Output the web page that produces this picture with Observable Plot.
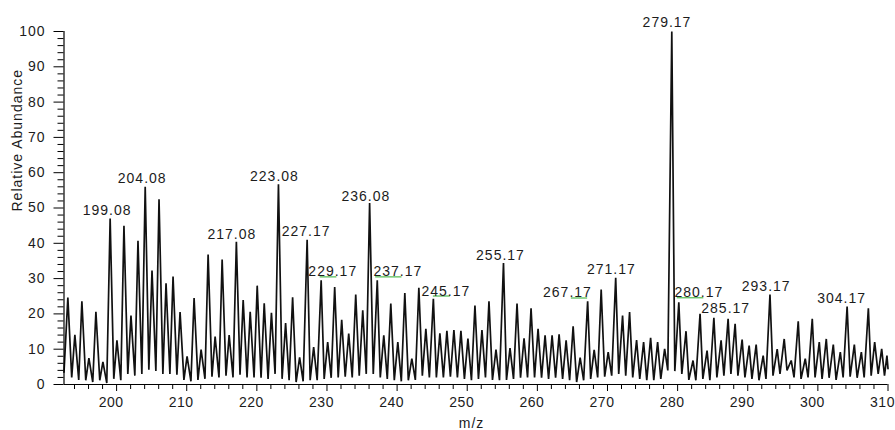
<!DOCTYPE html>
<html>
<head>
<meta charset="utf-8">
<script src="https://cdn.jsdelivr.net/npm/d3@7"></script>
<script src="https://cdn.jsdelivr.net/npm/@observablehq/plot@0.6"></script>
<style>
  html, body { margin: 0; padding: 0; background: #fff; }
  #chart svg text { letter-spacing: 1px; }
  #chart svg g[aria-label="x-axis tick label"] text { letter-spacing: 0.5px; }
</style>
</head>
<body>
<div id="chart"></div>
<script>
// Profile-mode mass spectrum: peak apexes (m/z, relative abundance %)
const peakMz = [
  193.05, 194.05, 195.05, 196.05, 197.05, 198.05, 199.08, 200.05, 201.05, 202.05,
  203.05, 204.08, 205.05, 206.05, 207.05, 208.05, 209.05, 210.05, 211.05, 212.05,
  213.05, 214.05, 215.05, 216.05, 217.08, 218.05, 219.05, 220.05, 221.05, 222.08,
  223.08, 224.1, 225.1, 226.1, 227.17, 228.1, 229.17, 230.1, 231.1, 232.1,
  233.1, 234.1, 235.1, 236.08, 237.17, 238.1, 239.1, 240.1, 241.1, 242.1,
  243.1, 244.1, 245.17, 246.1, 247.1, 248.1, 249.1, 250.1, 251.1, 252.1,
  253.1, 254.1, 255.17, 256.1, 257.1, 258.1, 259.1, 260.1, 261.1, 262.1,
  263.1, 264.1, 265.1, 266.1, 267.17, 268.1, 269.1, 270.1, 271.17, 272.15,
  273.15, 274.15, 275.15, 276.15, 277.15, 278.15, 279.17, 280.17, 281.2, 282.2,
  283.2, 284.2, 285.17, 286.2, 287.2, 288.2, 289.2, 290.2, 291.2, 292.2,
  293.17, 294.2, 295.2, 296.2, 297.2, 298.2, 299.2, 300.2, 301.2, 302.2,
  303.2, 304.17, 305.2, 306.2, 307.2, 308.1, 309.1, 309.85
];
const peakAbundance = [
  24.6, 14.1, 23.6, 7.5, 20.6, 6.4, 47, 12.5, 45, 19.5,
  40.7, 56, 32.3, 52.5, 28.7, 30.6, 20.5, 8, 24.5, 9.9,
  36.8, 13.6, 35.4, 14, 40.4, 23.9, 20.6, 28, 23, 20.3,
  56.7, 17.4, 24.7, 7.7, 41, 10.6, 29.5, 12, 27.6, 18.3,
  14.4, 25.5, 21, 51.4, 29.5, 13.9, 22.9, 12, 25.9, 7.3,
  27.4, 15.8, 24.3, 14.5, 15.2, 15.4, 15.2, 13, 22.4, 15.4,
  23.6, 9.9, 34.4, 10.3, 22.9, 13.1, 21.6, 15.8, 13.9, 13.9,
  14.2, 12.5, 16.5, 7.6, 23.6, 9.8, 26.9, 9.2, 30.2, 19.5,
  20.5, 12.6, 12, 13.2, 12, 10.1, 100, 23.3, 15.1, 6.8,
  20, 9.6, 18.9, 12.5, 18.6, 17.2, 12.7, 11, 11.3, 8.2,
  25.5, 10, 12.9, 6.8, 17.9, 7.3, 18.6, 12, 12.9, 11.3,
  9.2, 22.1, 11.3, 9.2, 21.6, 12, 10.1, 8.2
];

// Minima of the profile between neighbouring peaks, plus both ends of the scan
const valleyMz = [
  192.5,
  193.6, 194.6, 195.6, 196.6, 197.6, 198.6, 199.6, 200.6, 201.6, 202.6,
  203.6, 204.6, 205.6, 206.6, 207.6, 208.6, 209.6, 210.6, 211.6, 212.6,
  213.6, 214.6, 215.6, 216.6, 217.6, 218.6, 219.6, 220.6, 221.6, 222.6,
  223.6, 224.6, 225.6, 226.6, 227.6, 228.6, 229.6, 230.6, 231.6, 232.6,
  233.6, 234.6, 235.6, 236.6, 237.6, 238.6, 239.6, 240.6, 241.6, 242.6,
  243.6, 244.6, 245.6, 246.6, 247.6, 248.6, 249.6, 250.6, 251.6, 252.6,
  253.6, 254.6, 255.6, 256.6, 257.6, 258.6, 259.6, 260.6, 261.6, 262.6,
  263.6, 264.6, 265.6, 266.6, 267.6, 268.6, 269.6, 270.6, 271.6, 272.6,
  273.6, 274.6, 275.6, 276.6, 277.6, 278.6, 279.6, 280.6, 281.6, 282.6,
  283.6, 284.6, 285.6, 286.6, 287.6, 288.6, 289.6, 290.6, 291.6, 292.6,
  293.6, 294.6, 295.6, 296.6, 297.6, 298.6, 299.6, 300.6, 301.6, 302.6,
  303.6, 304.6, 305.6, 306.6, 307.6, 308.6,
  309.5, 310
];
const valleyAbundance = [
  3.5,
  2.0, 1.3, 1.2, 0.7, 1.2, 0.4, 1.6, 1.2, 3.0, 2.5,
  3.0, 4.2, 3.8, 3.0, 3.0, 2.8, 1.3, 0.9, 1.3, 1.6,
  2.2, 2.0, 2.5, 2.0, 2.8, 2.0, 2.0, 1.9, 1.6, 3.0,
  1.6, 1.2, 0.7, 0.9, 1.2, 1.2, 1.6, 1.9, 2.0, 2.2,
  2.0, 2.5, 3.0, 3.0, 2.0, 1.6, 1.2, 0.9, 1.2, 1.3,
  2.5, 2.0, 2.0, 2.0, 2.2, 2.0, 1.6, 1.2, 1.6, 2.0,
  1.3, 1.2, 1.3, 1.6, 1.9, 2.0, 2.0, 1.9, 1.6, 1.9,
  1.6, 1.2, 0.7, 1.2, 1.6, 2.0, 2.2, 2.5, 3.0, 2.5,
  2.0, 1.6, 1.2, 1.2, 1.6, 4.0, 3.8, 3.0, 1.3, 1.2,
  1.6, 1.2, 2.0, 2.5, 3.0, 2.5, 2.0, 1.6, 1.2, 1.6,
  2.5, 3.0, 4.0, 2.0, 1.6, 2.0, 2.0, 1.6, 1.9, 1.3,
  2.0, 2.2, 1.9, 2.0, 2.5, 3.0,
  2.5, 4.5
];

// Annotated peaks
const labelText = [
  "199.08", "204.08", "217.08", "223.08", "227.17", "229.17", "236.08", "237.17", "245.17",
  "255.17", "267.17", "271.17", "279.17", "280.17", "285.17", "293.17", "304.17"
];

// Axis ticks
const xMajorTicks = [200, 210, 220, 230, 240, 250, 260, 270, 280, 290, 300, 310];
const xMinorTicks = d3.range(194, 310, 2).filter(v => v % 10 !== 0);
const yMajorTicks = [0, 10, 20, 30, 40, 50, 60, 70, 80, 90, 100];
const yMinorTicks = d3.range(2, 100, 2).filter(v => v % 10 !== 0);

// Layout
const W = 895, H = 430;
const margin = {top: 31, right: 7.5, bottom: 46, left: 63.5};
const xDomain = [192.5, 310];
const pxPerMz = (W - margin.left - margin.right) / (xDomain[1] - xDomain[0]);

// Label placement in pixels: horizontal shift, baseline above apex, optional leader line span
const labelLayout = {
  "199.08": {dx: -3, dy: -4},
  "204.08": {dx: -3, dy: -4},
  "217.08": {dx: -4.5, dy: -2.5},
  "223.08": {dx: -4, dy: -3.5},
  "227.17": {dx: -1, dy: -3.3},
  "229.17": {dx: 11.6, dy: -4, lead: [-1, 15.7]},
  "236.08": {dx: -3.8, dy: -2},
  "237.17": {dx: 20.6, dy: -4, lead: [-1.6, 24.7]},
  "245.17": {dx: 12.5, dy: -3.2, lead: [0, 17]},
  "255.17": {dx: -3, dy: -3},
  "267.17": {dx: -20.2, dy: -3.7, lead: [-16.3, 0]},
  "271.17": {dx: -4.3, dy: -3.4},
  "279.17": {dx: -4.8, dy: -4.5},
  "280.17": {dx: 20, dy: -5, lead: [-1.5, 25]},
  "285.17": {dx: 11.8, dy: -4.5},
  "293.17": {dx: -3.8, dy: -3.5},
  "304.17": {dx: -5.5, dy: -3}
};

const profile = peakMz.map((mz, i) => ({mz, abundance: peakAbundance[i]}))
  .concat(valleyMz.map((mz, i) => ({mz, abundance: valleyAbundance[i]})))
  .sort((a, b) => a.mz - b.mz);

const ink = "#1c1c1c";
const font = "'Liberation Sans', Arial, Helvetica, sans-serif";

const labelMarks = labelText.flatMap(t => {
  const mz = +t;
  const ab = peakAbundance[peakMz.indexOf(mz)];
  const {dx, dy, lead} = labelLayout[t];
  const marks = [];
  if (lead) {
    marks.push(Plot.ruleY([ab], {
      y: d => d,
      x1: () => mz + lead[0] / pxPerMz,
      x2: () => mz + lead[1] / pxPerMz,
      dy: dy + 0.5,
      stroke: "#5cbf5c",
      strokeWidth: 1.3
    }));
  }
  marks.push(Plot.text([t], {
    x: () => mz, y: () => ab, text: d => d,
    dx, dy, lineAnchor: "bottom", textAnchor: "middle",
    fontSize: 14, fill: ink
  }));
  return marks;
});

const chart = Plot.plot({
  width: W,
  height: H,
  marginTop: margin.top,
  marginRight: margin.right,
  marginBottom: margin.bottom,
  marginLeft: margin.left,
  style: {fontFamily: font, fontSize: "14px", background: "#fff", color: ink},
  x: {domain: xDomain, label: null},
  y: {domain: [0, 100], label: null},
  marks: [
    Plot.line(profile, {x: "mz", y: "abundance", stroke: "#111", strokeWidth: 1.7, strokeLinejoin: "miter"}),
    ...labelMarks,
    // x axis
    Plot.axisX({ticks: xMinorTicks, tickSize: 5, tickFormat: () => "", label: null, stroke: "#000"}),
    Plot.axisX({ticks: xMajorTicks, tickSize: 7, tickFormat: () => "", label: null, stroke: "#000"}),
    Plot.axisX({ticks: xMajorTicks, tickSize: 0, tickPadding: 13, dx: -5.5, label: null, fontSize: 14, fill: ink}),
    // y axis
    Plot.axisY({ticks: yMinorTicks, tickSize: 6, tickFormat: () => "", label: null, stroke: "#000"}),
    Plot.axisY({ticks: yMajorTicks, tickSize: 10, tickFormat: () => "", label: null, stroke: "#000"}),
    Plot.axisY({ticks: yMajorTicks, tickSize: 0, tickPadding: 18.5, label: null, fontSize: 14, fill: ink}),
    Plot.ruleY([0], {stroke: "#000", strokeWidth: 1.2}),
    Plot.ruleX([xDomain[0]], {stroke: "#000", strokeWidth: 1.2}),
    // axis titles
    Plot.text(["Relative Abundance"], {frameAnchor: "left", text: d => d, rotate: -90, dx: -46.5, dy: 3.5, fontSize: 14, fill: ink}),
    Plot.text(["m/z"], {frameAnchor: "bottom", text: d => d, dx: -4.5, dy: 43, lineAnchor: "bottom", fontSize: 14, fill: ink})
  ]
});

document.getElementById("chart").appendChild(chart);
</script>
</body>
</html>
